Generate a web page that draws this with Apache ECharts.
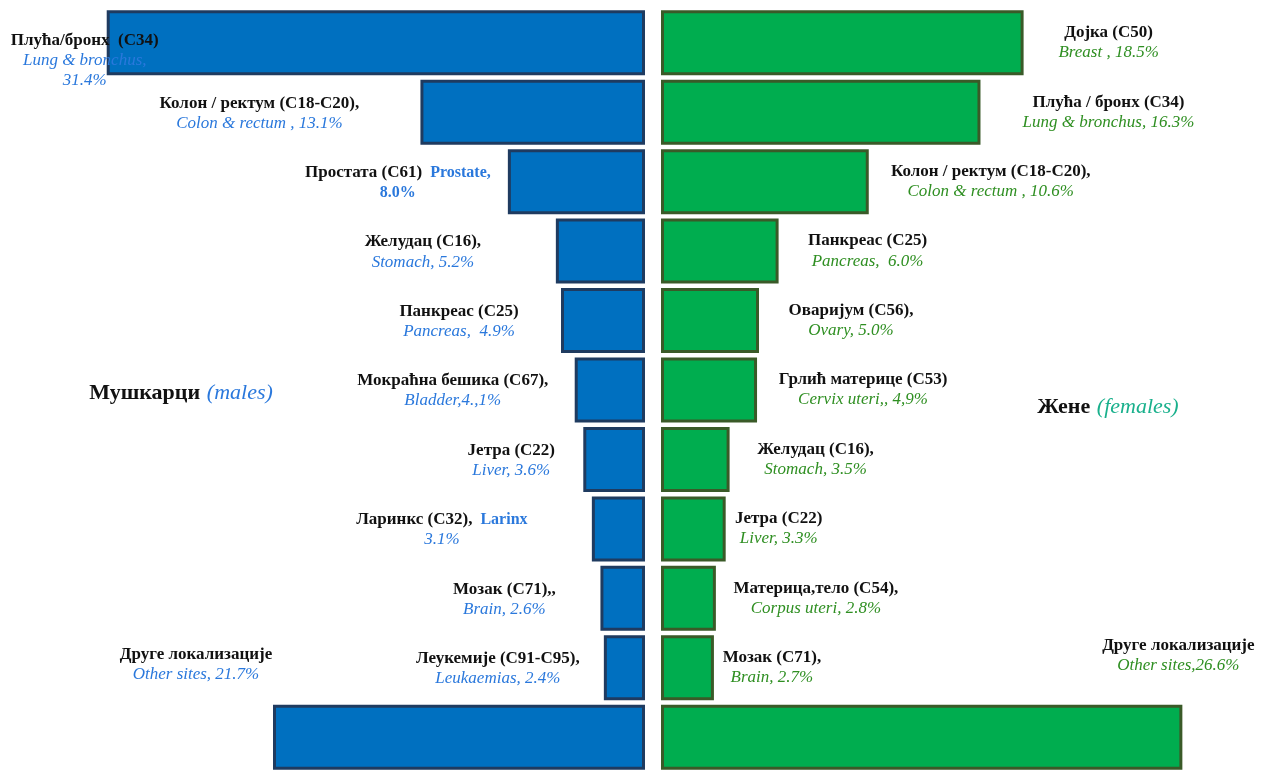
<!DOCTYPE html>
<html><head><meta charset="utf-8">
<script src="https://cdn.jsdelivr.net/npm/echarts@6/dist/echarts.min.js"></script>
<style>html,body{margin:0;padding:0;background:#fff}#c{width:1263px;height:772px}</style>
</head><body><div id="c"></div>
<script>
// ---- data ----
const maleNames = ['Плућа/бронх  (C34)', 'Колон / ректум (C18-C20),', 'Простата (C61)', 'Желудац (C16),', 'Панкреас (C25)', 'Мокраћна бешика (C67),', 'Јетра (C22)', 'Ларинкс (C32),', 'Мозак (C71),,', 'Леукемије (C91-C95),', 'Друге локализације'];
const maleInlineEnglish = ['', '', 'Prostate,', '', '', '', '', 'Larinx', '', '', ''];
const maleEnglish = ['Lung & bronchus,', 'Colon & rectum , 13.1%', '8.0%', 'Stomach, 5.2%', 'Pancreas,  4.9%', 'Bladder,4.,1%', 'Liver, 3.6%', '3.1%', 'Brain, 2.6%', 'Leukaemias, 2.4%', 'Other sites, 21.7%'];
const maleExtra = ['31.4%', '', '', '', '', '', '', '', '', '', ''];
const maleValues = [31.4, 13.1, 8.0, 5.2, 4.9, 4.1, 3.6, 3.1, 2.6, 2.4, 21.7];

const femaleNames = ['Дојка (C50)', 'Плућа / бронх (C34)', 'Колон / ректум (C18-C20),', 'Панкреас (C25)', 'Оваријум (C56),', 'Грлић материце (C53)', 'Желудац (C16),', 'Јетра (C22)', 'Материца,тело (C54),', 'Мозак (C71),', 'Друге локализације'];
const femaleEnglish = ['Breast , 18.5%', 'Lung & bronchus, 16.3%', 'Colon & rectum , 10.6%', 'Pancreas,  6.0%', 'Ovary, 5.0%', 'Cervix uteri,, 4,9%', 'Stomach, 3.5%', 'Liver, 3.3%', 'Corpus uteri, 2.8%', 'Brain, 2.7%', 'Other sites,26.6%'];
const femaleValues = [18.5, 16.3, 10.6, 6.0, 5.0, 4.9, 3.5, 3.3, 2.8, 2.7, 26.6];

const rowIds = ['r1','r2','r3','r4','r5','r6','r7','r8','r9','r10','r11'];

// ---- label layout (pixels, separate from data) ----
const maleLabelGap  = [22, 161, 110, 133, 102, 122, 72, 150, 96, 106, 77];
const maleLabelLift = [18, 1, 1, 1, 1, 1, 1, 1, 1, 1, -73];
const femaleLabelGap  = [85, 128, 122, 89, 92, 106, 86, 53, 100, 58, -4];
const femaleLabelLift = [0, 0, 0, 0, 0, 0, 0, 0, 0, 0, -82];

const FONT = '"Liberation Serif", "DejaVu Serif", serif';
const maleRich = {
  n: {fontFamily: FONT, fontWeight: 'bold', fontSize: 17, color: '#111', lineHeight: 20},
  e: {fontFamily: FONT, fontStyle: 'italic', fontSize: 17, color: '#2a78dc', lineHeight: 20},
  b: {fontFamily: FONT, fontWeight: 'bold', fontSize: 16, color: '#2a78dc', lineHeight: 20}
};
const femaleRich = {
  n: {fontFamily: FONT, fontWeight: 'bold', fontSize: 17, color: '#111', lineHeight: 20},
  e: {fontFamily: FONT, fontStyle: 'italic', fontSize: 17, color: '#2f8f22', lineHeight: 20}
};

function maleLabel(i) {
  let s = '{n|' + maleNames[i] + '}';
  if (maleInlineEnglish[i]) s += '{b|  ' + maleInlineEnglish[i] + '}';
  s += '\n{' + (maleInlineEnglish[i] === 'Prostate,' ? 'b' : 'e') + '|' + maleEnglish[i] + '}';
  if (maleExtra[i]) s += '\n{e|' + maleExtra[i] + '}';
  return s;
}
function femaleLabel(i) {
  return '{n|' + femaleNames[i] + '}\n{e|' + femaleEnglish[i] + '}';
}

const chart = echarts.init(document.getElementById('c'), null, {renderer: 'canvas'});
const hiddenAxis = {axisLine: {show: false}, axisTick: {show: false}, axisLabel: {show: false}, splitLine: {show: false}};

chart.setOption({
  animation: false,
  backgroundColor: '#ffffff',
  grid: [
    {left: 45, width: 600, top: 8, height: 770},
    {left: 661, width: 588, top: 8, height: 770}
  ],
  xAxis: [
    Object.assign({type: 'value', gridIndex: 0, min: 0, max: 35, inverse: true}, hiddenAxis),
    Object.assign({type: 'value', gridIndex: 1, min: 0, max: 30}, hiddenAxis)
  ],
  yAxis: [
    Object.assign({type: 'category', gridIndex: 0, data: rowIds, inverse: true}, hiddenAxis),
    Object.assign({type: 'category', gridIndex: 1, data: rowIds, inverse: true}, hiddenAxis)
  ],
  graphic: [
    {type: 'text', x: 181, y: 393, style: {text: '{n|Мушкарци}  {e|(males)}', align: 'center', verticalAlign: 'middle', textAlign: 'center', textVerticalAlign: 'middle',
      rich: {n: {fontFamily: FONT, fontWeight: 'bold', fontSize: 22, fill: '#111', color: '#111'}, e: {fontFamily: FONT, fontStyle: 'italic', fontSize: 22, fill: '#2a78dc', color: '#2a78dc'}}}},
    {type: 'text', x: 1108, y: 407, style: {text: '{n|Жене}  {e|(females)}', align: 'center', verticalAlign: 'middle', textAlign: 'center', textVerticalAlign: 'middle',
      rich: {n: {fontFamily: FONT, fontWeight: 'bold', fontSize: 22, fill: '#111', color: '#111'}, e: {fontFamily: FONT, fontStyle: 'italic', fontSize: 22, fill: '#19b08c', color: '#19b08c'}}}}
  ],
  series: [
    {
      type: 'bar', xAxisIndex: 0, yAxisIndex: 0, barWidth: 65,
      itemStyle: {color: '#0070c0', borderColor: '#1f3b60', borderWidth: 3},
      data: maleValues.map((v, i) => ({value: v, label: {distance: maleLabelGap[i], offset: [0, maleLabelLift[i]]}})),
      label: {show: true, position: 'left', align: 'center', verticalAlign: 'middle',
        formatter: p => maleLabel(p.dataIndex), rich: maleRich}
    },
    {
      type: 'bar', xAxisIndex: 1, yAxisIndex: 1, barWidth: 65,
      itemStyle: {color: '#00ad4f', borderColor: '#3a5a28', borderWidth: 3},
      data: femaleValues.map((v, i) => ({value: v, label: {distance: femaleLabelGap[i], offset: [0, femaleLabelLift[i]]}})),
      label: {show: true, position: 'right', align: 'center', verticalAlign: 'middle',
        formatter: p => femaleLabel(p.dataIndex), rich: femaleRich}
    }
  ]
});
</script>
</body></html>
